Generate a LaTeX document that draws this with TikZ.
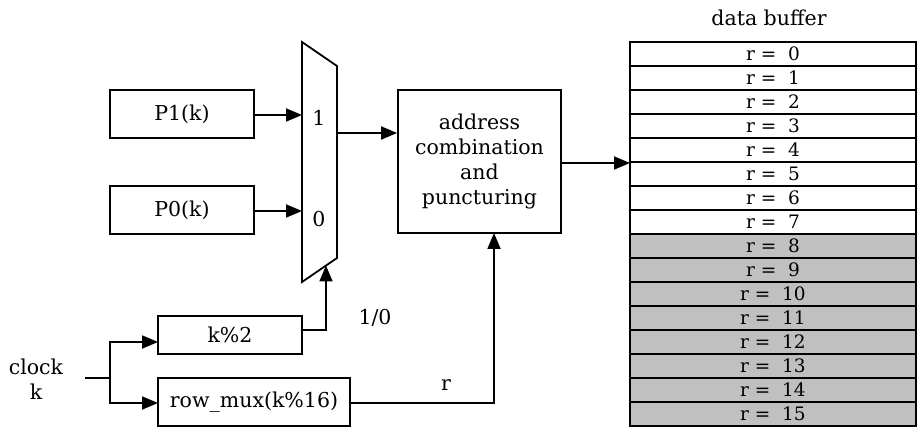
\documentclass[tikz,border=0pt]{standalone}
\usepackage{fontspec}
\setmainfont{DejaVu Serif}
\usetikzlibrary{arrows.meta}
\definecolor{rowgray}{RGB}{192,192,192}
\begin{document}
\begin{tikzpicture}[x=1pt,y=-1pt,line width=1.8pt,
  >={Triangle[length=16pt,width=13pt]},
  txt/.style={font=\fontsize{20.5}{25}\selectfont},
  box/.style={draw,rectangle,inner sep=0pt,txt,align=center},
  lbl/.style={inner sep=0pt,txt,align=center},
  rowbox/.style={draw,rectangle,inner sep=0pt,minimum width=286pt,minimum height=24pt,font=\fontsize{18.5}{20}\selectfont}]
\useasboundingbox (0,0) rectangle (917,427);
% boxes
\node[box,minimum width=144pt,minimum height=48pt] (p1) at (182,114) {P1(k)};
\node[box,minimum width=144pt,minimum height=48pt] (p0) at (182,210) {P0(k)};
\node[box,minimum width=163pt,minimum height=143pt] (addr) at (479.5,161.5) {address\\combination\\and\\puncturing};
\node[box,minimum width=144pt,minimum height=38pt] (k2) at (230,335) {k\%2};
\node[box,minimum width=192pt,minimum height=48pt] (rmux) at (254,402) {row\_mux(k\%16)};
% mux
\coordinate (mtl) at (302,42);
\coordinate (mtr) at (337,66);
\coordinate (mbr) at (337,258);
\coordinate (mbl) at (302,282);
\draw[line join=miter] (mtl) -- (mtr) -- (mbr) -- (mbl) -- cycle;
\node[lbl] (m1) at (319,118) {1};
\node[lbl] (m0) at (319,219) {0};
% buffer
\foreach \i in {0,...,7}{
  \node[rowbox,fill=white] (row\i) at (773,{54+24*\i}) {r =\ \ \i};
}
\foreach \i in {8,...,15}{
  \node[rowbox,fill=rowgray] (row\i) at (773,{54+24*\i}) {r =\ \ \i};
}
\node[lbl] (dbuf) at (769,18) {data buffer};
% connectors
\coordinate (mi1) at (302,115);
\coordinate (mi0) at (302,211);
\draw[->] (p1.east |- mi1) -- (mi1);
\draw[->] (p0.east |- mi0) -- (mi0);
\coordinate (mout) at (337,133);
\draw[->] (mout) -- (addr.west |- mout);
\coordinate (aout) at (561,163);
\coordinate (bin) at (630,163);
\draw[->] (aout) -- (bin);
% k%2 to mux select
\coordinate (k2o) at (302,330);
\coordinate (k2c) at (326,330);
\coordinate (msel) at (326,265.5);
\draw[->] (k2o) -- (k2c) -- (msel);
\node[lbl] (sl) at (375,318) {1/0};
% row_mux to addr
\coordinate (ro) at (350,403);
\coordinate (rc) at (494,403);
\coordinate (ain) at (494,233);
\draw[->] (ro) -- (rc) -- (ain);
\node[lbl] (rl) at (446,385) {r};
% clock
\node[lbl] (clk) at (36,379) {clock\\k};
\coordinate (cin) at (85,378);
\coordinate (split) at (110,378);
\coordinate (su) at (110,342);
\coordinate (sd) at (110,403);
\coordinate (k2i) at (158,342);
\coordinate (rmi) at (158,403);
\draw (cin) -- (split);
\draw[->] (split) -- (su) -- (k2i);
\draw[->] (split) -- (sd) -- (rmi);
\end{tikzpicture}
\end{document}
